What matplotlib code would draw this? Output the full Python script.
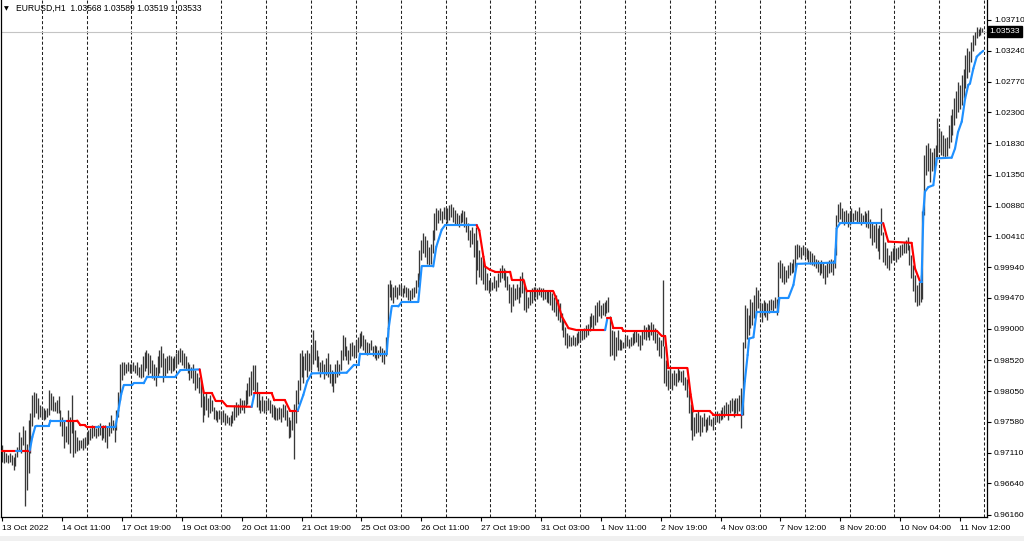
import matplotlib
matplotlib.use("Agg")
import matplotlib.pyplot as plt
import numpy as np
from matplotlib.collections import LineCollection
from matplotlib.transforms import blended_transform_factory
from matplotlib.patches import Rectangle

# ---------------- data (prices in 1/10000) ----------------
symbol_title = "EURUSD,H1  1.03568 1.03589 1.03519 1.03533"
last_close = 1.03533

high_pips = [
    # 13 Oct
    9723, 9713, 9710, 9708, 9710, 9708, 9705, 9710, 9720, 9743, 9735, 9751, 9746, 9725, 9761, 9771, 9799, 9804, 9802, 9794, 9784,
    # 14 Oct
    9781, 9779, 9776, 9779, 9807, 9802, 9797, 9789, 9791, 9797, 9776, 9766, 9761, 9751, 9776, 9766, 9799, 9761, 9746, 9735, 9730, 9730, 9733, 9735,
    # 17 Oct
    9741, 9746, 9748, 9753, 9751, 9748, 9753, 9756, 9751, 9753, 9753, 9751, 9758, 9769, 9761, 9756, 9776, 9804, 9847, 9850, 9850, 9847, 9850, 9847,
    # 18 Oct
    9847, 9850, 9845, 9850, 9842, 9847, 9858, 9865, 9868, 9863, 9860, 9852, 9847, 9842, 9858, 9868, 9873, 9863, 9855, 9858, 9860, 9858, 9855, 9858,
    # 19 Oct
    9863, 9868, 9870, 9868, 9863, 9858, 9850, 9847, 9842, 9847, 9837, 9832, 9827, 9822, 9807, 9797, 9802, 9794, 9799, 9791, 9781, 9776, 9774, 9776,
    # 20 Oct
    9774, 9776, 9771, 9769, 9766, 9769, 9774, 9784, 9789, 9786, 9794, 9791, 9791, 9807, 9817, 9827, 9835, 9845, 9845, 9819, 9802, 9791, 9797, 9791,
    # 21 Oct
    9791, 9794, 9791, 9786, 9784, 9781, 9779, 9781, 9779, 9786, 9784, 9776, 9766, 9761, 9776, 9786, 9807, 9822, 9863, 9868, 9858, 9863, 9868, 9863,
    # 24 Oct
    9873, 9898, 9883, 9868, 9858, 9850, 9852, 9847, 9855, 9863, 9847, 9837, 9832, 9847, 9852, 9847, 9868, 9890, 9888, 9873, 9868, 9878, 9880, 9875,
    # 25 Oct
    9883, 9888, 9893, 9896, 9890, 9885, 9880, 9878, 9883, 9873, 9875, 9873, 9868, 9873, 9870, 9868, 9888, 9969, 9974, 9969, 9964, 9967, 9964, 9969,
    # 26 Oct
    9967, 9962, 9967, 9964, 9962, 9959, 9962, 9964, 9974, 9985, 10020, 10035, 10046, 10041, 10035, 10025, 10030, 10051, 10076, 10084, 10081, 10084, 10079, 10086,
    # 27 Oct
    10086, 10084, 10089, 10091, 10086, 10081, 10076, 10074, 10076, 10081, 10079, 10071, 10061, 10051, 10056, 10046, 10056, 10035, 10020, 10010, 10005, 9995, 9985, 9974,
    # 28 Oct
    9974, 9972, 9980, 9974, 9985, 9992, 9997, 9992, 9990, 9980, 9969, 9964, 9969, 9962, 9969, 9964, 9980, 9987, 9974, 9959, 9949, 9959, 9962, 9964,
    # 31 Oct
    9964, 9962, 9964, 9962, 9962, 9959, 9959, 9957, 9959, 9954, 9949, 9952, 9946, 9939, 9924, 9913, 9903, 9893, 9891, 9888, 9891, 9888, 9893, 9896,
    # 1 Nov
    9896, 9898, 9901, 9906, 9908, 9919, 9924, 9921, 9936, 9941, 9944, 9936, 9939, 9941, 9944, 9949, 9919, 9898, 9896, 9888, 9898, 9885, 9883, 9880,
    # 2 Nov
    9888, 9891, 9885, 9888, 9893, 9896, 9898, 9893, 9891, 9896, 9906, 9903, 9908, 9906, 9911, 9908, 9901, 9893, 9888, 9883, 9974, 9873, 9853, 9837,
    # 3 Nov
    9842, 9832, 9837, 9832, 9840, 9837, 9835, 9837, 9827, 9824, 9807, 9786, 9776, 9766, 9771, 9776, 9769, 9766, 9771, 9763, 9766, 9769, 9763, 9766,
    # 4 Nov
    9771, 9774, 9771, 9776, 9781, 9784, 9789, 9786, 9791, 9794, 9791, 9794, 9794, 9799, 9809, 9880, 9936, 9931, 9921, 9946, 9941, 9951, 9964, 9959,
    # 7 Nov
    9941, 9939, 9944, 9941, 9939, 9944, 9946, 9944, 9949, 9946, 10002, 10005, 10000, 9995, 9990, 9997, 10002, 10000, 10007, 10028, 10030, 10028, 10025, 10028,
    # 8 Nov
    10025, 10023, 10020, 10018, 10015, 10013, 10007, 10005, 10002, 10005, 10000, 9997, 10002, 10005, 10007, 10005, 10023, 10074, 10091, 10094, 10084, 10079, 10081, 10076,
    # 9 Nov
    10079, 10084, 10076, 10081, 10079, 10086, 10076, 10074, 10079, 10076, 10081, 10068, 10063, 10058, 10063, 10053, 10058, 10084, 10048, 10033, 10023, 10013, 10018, 10023,
    # 10 Nov
    10028, 10023, 10025, 10028, 10030, 10033, 10035, 10040, 10028, 10013, 9997, 9982, 9967, 9972, 9982, 10079, 10165, 10180, 10183, 10175, 10170, 10175, 10180, 10221,
    # 11 Nov
    10206, 10201, 10196, 10191, 10193, 10211, 10226, 10236, 10252, 10262, 10277, 10272, 10287, 10297, 10318, 10328, 10323, 10338, 10348, 10353, 10361, 10358, 10361, 10359,
]

low_pips = [
    # 13 Oct
    9697, 9695, 9697, 9695, 9697, 9692, 9685, 9690, 9705, 9715, 9710, 9723, 9630, 9654, 9680, 9710, 9751, 9766, 9771, 9763, 9766,
    # 14 Oct
    9763, 9761, 9763, 9766, 9769, 9776, 9774, 9774, 9771, 9771, 9751, 9736, 9718, 9728, 9725, 9710, 9741, 9705, 9710, 9713, 9715, 9718, 9715, 9718,
    # 17 Oct
    9723, 9725, 9730, 9733, 9736, 9733, 9736, 9738, 9730, 9733, 9728, 9718, 9736, 9741, 9746, 9728, 9746, 9766, 9791, 9822, 9830, 9832, 9835, 9832,
    # 18 Oct
    9832, 9835, 9832, 9830, 9827, 9825, 9827, 9835, 9840, 9830, 9832, 9825, 9822, 9812, 9827, 9832, 9842, 9819, 9827, 9832, 9837, 9832, 9835, 9837,
    # 19 Oct
    9842, 9847, 9850, 9845, 9840, 9837, 9832, 9822, 9825, 9817, 9807, 9809, 9802, 9781, 9758, 9769, 9776, 9766, 9771, 9774, 9763, 9761, 9758, 9763,
    # 20 Oct
    9756, 9758, 9753, 9756, 9753, 9751, 9756, 9761, 9766, 9769, 9771, 9776, 9771, 9781, 9786, 9797, 9799, 9807, 9802, 9781, 9776, 9771, 9774, 9771,
    # 21 Oct
    9774, 9776, 9771, 9766, 9763, 9761, 9761, 9763, 9758, 9766, 9761, 9751, 9733, 9735, 9746, 9702, 9756, 9786, 9807, 9827, 9817, 9837, 9827, 9835,
    # 24 Oct
    9837, 9847, 9852, 9842, 9835, 9827, 9832, 9824, 9830, 9827, 9817, 9812, 9804, 9817, 9827, 9830, 9837, 9852, 9858, 9852, 9847, 9852, 9858, 9855,
    # 25 Oct
    9858, 9865, 9870, 9873, 9868, 9863, 9860, 9863, 9868, 9858, 9855, 9852, 9855, 9858, 9850, 9847, 9858, 9888, 9949, 9944, 9939, 9949, 9946, 9951,
    # 26 Oct
    9951, 9949, 9954, 9949, 9944, 9941, 9946, 9949, 9954, 9964, 9974, 10005, 10015, 10010, 9999, 9995, 9999, 10015, 10035, 10051, 10061, 10066, 10061, 10068,
    # 27 Oct
    10066, 10061, 10066, 10071, 10063, 10058, 10058, 10056, 10061, 10063, 10056, 10048, 10035, 10025, 10030, 10010, 9969, 9990, 9979, 9974, 9969, 9959, 9959, 9954,
    # 28 Oct
    9957, 9959, 9962, 9957, 9964, 9972, 9977, 9974, 9964, 9959, 9939, 9926, 9934, 9944, 9946, 9939, 9949, 9954, 9929, 9926, 9931, 9936, 9939, 9944,
    # 31 Oct
    9949, 9946, 9952, 9949, 9944, 9946, 9941, 9939, 9936, 9929, 9926, 9919, 9913, 9911, 9898, 9888, 9875, 9870, 9873, 9873, 9875, 9873, 9875, 9878,
    # 1 Nov
    9880, 9883, 9885, 9888, 9891, 9896, 9903, 9898, 9906, 9911, 9919, 9916, 9921, 9919, 9924, 9926, 9858, 9860, 9853, 9858, 9868, 9868, 9868, 9870,
    # 2 Nov
    9870, 9873, 9870, 9873, 9875, 9878, 9880, 9873, 9868, 9875, 9885, 9883, 9888, 9883, 9891, 9883, 9878, 9868, 9858, 9855, 9873, 9817, 9812, 9807,
    # 3 Nov
    9809, 9807, 9814, 9812, 9819, 9822, 9819, 9814, 9807, 9796, 9771, 9746, 9730, 9736, 9741, 9743, 9736, 9743, 9751, 9743, 9746, 9753, 9751, 9746,
    # 4 Nov
    9756, 9758, 9756, 9761, 9763, 9766, 9769, 9761, 9771, 9774, 9766, 9771, 9768, 9774, 9748, 9768, 9870, 9885, 9891, 9901, 9906, 9916, 9926, 9931,
    # 7 Nov
    9918, 9911, 9921, 9918, 9913, 9924, 9929, 9926, 9931, 9921, 9926, 9977, 9972, 9969, 9972, 9977, 9982, 9985, 9987, 9992, 10007, 10010, 10007, 10013,
    # 8 Nov
    10010, 10007, 10002, 9999, 9997, 9995, 9992, 9987, 9982, 9985, 9977, 9969, 9979, 9985, 9987, 9982, 9992, 10013, 10063, 10068, 10061, 10058, 10063, 10056,
    # 9 Nov
    10058, 10063, 10061, 10066, 10061, 10063, 10058, 10061, 10063, 10056, 10053, 10038, 10028, 10033, 10023, 10018, 10007, 10043, 10002, 9997, 9992, 9990, 10000, 10005,
    # 10 Nov
    10005, 10002, 10007, 10010, 10013, 10015, 10015, 10020, 9997, 9977, 9957, 9941, 9934, 9936, 9941, 9946, 10074, 10135, 10140, 10124, 10140, 10140, 10150, 10160,
    # 11 Nov
    10170, 10165, 10163, 10160, 10163, 10175, 10185, 10196, 10211, 10221, 10231, 10236, 10241, 10252, 10267, 10282, 10292, 10307, 10323, 10333, 10343, 10346, 10348, 10352,
]

# step indicator: knot positions (bar index), levels (1/10000) and trend of segment starting at knot
ind_bar = [
    0, 7.5, 11, 14.6, 16, 17.6, 18.5, 24.8, 25.7, 34.6,
    40, 41.7, 44, 45.3, 50, 53, 56, 60.4, 62, 63.5,
    64.9, 69.3, 70.2, 75.6, 77.4, 92.5, 95.2, 105.5, 107.7, 112,
    114, 117.5, 120, 133.3, 134.8, 144, 145.4, 151.1, 153.8, 157.9,
    160.9, 163, 165.4, 184.1, 188, 190.5, 191.2, 205.5, 206.5, 208.2,
    211.7, 213.5, 222.4, 224.2, 230.4, 232, 234.9, 236.7, 253.6, 255,
    257.2, 258.1, 260.7, 263.4, 271.5, 272.4, 278.6, 280.4, 294.6, 297,
    299.1, 302.7, 307.1, 322.3, 323.5, 325.3, 326.7, 331.2, 332.1, 349.9,
    352.6, 354.4, 356.1, 366.3, 368, 369.5, 378.4, 380.2, 395.5, 397,
    398.5, 399.3, 401.6, 403.3, 414.6, 415.5, 420.3, 423, 424.8, 445.2,
    446.1, 447.9, 471, 472.5, 473.7, 486.2, 488, 490.7, 491.5, 492.5,
    493.3, 495.1, 497.8, 499.6, 507.6, 509.4, 511, 513, 514.8, 516.5,
    517.4, 519.2, 521, 522.8, 524.5,
]
ind_level = [
    9714, 9714, 9714, 9714, 9735, 9751, 9752, 9752, 9760, 9760,
    9760, 9753, 9753, 9750, 9750, 9750, 9750, 9750, 9775, 9800,
    9814, 9814, 9817, 9817, 9827, 9827, 9837, 9838, 9802, 9802,
    9790, 9790, 9782, 9781, 9802, 9802, 9791, 9791, 9775, 9775,
    9799, 9820, 9832, 9833, 9845, 9845, 9862, 9862, 9900, 9934,
    9934, 9941, 9941, 9995, 9995, 10025, 10051, 10058, 10058, 10050,
    10010, 9995, 9990, 9987, 9987, 9975, 9975, 9957, 9957, 9940,
    9919, 9901, 9898, 9898, 9916, 9916, 9901, 9901, 9897, 9897,
    9889, 9889, 9840, 9840, 9800, 9774, 9774, 9769, 9769, 9820,
    9860, 9885, 9887, 9926, 9926, 9947, 9947, 9967, 9999, 10001,
    10053, 10061, 10061, 10045, 10033, 10031, 9992, 9972, 9972, 10079,
    10109, 10116, 10119, 10160, 10161, 10175, 10200, 10216, 10251, 10272,
    10274, 10297, 10315, 10320, 10324,
]
ind_trend = [
    -1, 1, -1, 1, 1, 1, 1, 1, 1, -1,
    -1, -1, -1, -1, 1, -1, 1, 1, 1, 1,
    1, 1, 1, 1, 1, 1, 1, -1, -1, -1,
    -1, -1, -1, 1, -1, -1, -1, -1, -1, 1,
    1, 1, 1, 1, 1, 1, 1, 1, 1, 1,
    1, 1, 1, 1, 1, 1, 1, 1, -1, -1,
    -1, -1, -1, -1, -1, -1, -1, -1, -1, -1,
    -1, -1, -1, 1, -1, -1, -1, -1, -1, -1,
    -1, -1, -1, -1, -1, -1, -1, -1, 1, 1,
    1, 1, 1, 1, 1, 1, 1, 1, 1, 1,
    1, 1, -1, -1, -1, -1, -1, 1, 1, 1,
    1, 1, 1, 1, 1, 1, 1, 1, 1, 1,
    1, 1, 1, 1, 1,
]

day_start_bars = [21, 45, 69, 93, 117, 141, 165, 189, 213, 237, 261, 285, 309, 333,
                  357, 381, 405, 429, 453, 477, 501, 525]

xtick_bars = [0, 32, 64, 96, 128, 160, 192, 224, 256, 288, 320, 352, 384, 416, 448, 480, 512]
xtick_labels = ["13 Oct 2022", "14 Oct 11:00", "17 Oct 19:00", "19 Oct 03:00", "20 Oct 11:00",
                "21 Oct 19:00", "25 Oct 03:00", "26 Oct 11:00", "27 Oct 19:00", "31 Oct 03:00",
                "1 Nov 11:00", "2 Nov 19:00", "4 Nov 03:00", "7 Nov 12:00", "8 Nov 20:00",
                "10 Nov 04:00", "11 Nov 12:00"]

ytick_values = [1.03710, 1.03240, 1.02770, 1.02300, 1.01830, 1.01350, 1.00880, 1.00410,
                0.99940, 0.99470, 0.99000, 0.98520, 0.98050, 0.97580, 0.97110, 0.96640, 0.96160]

# ---------------- figure ----------------
plt.rcParams['font.family'] = ['Liberation Sans', 'DejaVu Sans']
plt.rcParams['lines.scale_dashes'] = False

W, H = 1024, 541
fig = plt.figure(figsize=(W / 100, H / 100), dpi=100)
fig.patch.set_facecolor('white')
ax = fig.add_axes([1 / W, 24 / H, 986 / W, 517 / H])
ax.set_facecolor('white')

bars = np.arange(len(high_pips))
highs = np.array(high_pips) / 10000.0
lows = np.array(low_pips) / 10000.0

# day separators
for b in day_start_bars:
    ax.axvline(b, color='#222222', lw=0.75, ls=(0, (2.2, 1.5)), zorder=0)

# last price line
ax.axhline(last_close, color='#c4c4c4', lw=0.8, zorder=0.5)

# OHLC bars (high-low lines)
ax.vlines(bars, lows, highs, colors='#383838', lw=0.95, zorder=2)

# indicator line
pts = np.column_stack([ind_bar, np.array(ind_level) / 10000.0])
segs = [pts[k:k + 2] for k in range(len(pts) - 1)]
cols = ['#1e90ff' if ind_trend[k] > 0 else '#ff0000' for k in range(len(pts) - 1)]
lc = LineCollection(segs, colors=cols, linewidths=1.55, capstyle='round', joinstyle='round', zorder=3)
ax.add_collection(lc)

ax.set_xlim(-0.75, 526.5)
ax.set_ylim(0.96129, 1.04015)

# spines
ax.spines['top'].set_visible(False)
for s in ['left', 'right', 'bottom']:
    ax.spines[s].set_color('black')
    ax.spines[s].set_linewidth(0.9)

# x ticks
ax.set_xticks(xtick_bars)
ax.set_xticklabels(xtick_labels, ha='left', fontsize=6.1)
ax.tick_params(axis='x', direction='out', length=3, width=0.8, pad=2.5, colors='black')

# y ticks on right
ax.yaxis.tick_right()
ax.set_yticks(ytick_values)
ax.set_yticklabels([f"{v:.5f}" for v in ytick_values], fontsize=6.1)
ax.tick_params(axis='y', direction='out', length=3, width=0.8, pad=2, colors='black')

# current price label
tr = blended_transform_factory(ax.transAxes, ax.transData)
ax.text(1.0 + 2.5 / 986, last_close, f"{last_close:.5f}", transform=tr, fontsize=6.1,
        color='white', va='center', ha='left', clip_on=False, zorder=10,
        bbox=dict(boxstyle='square,pad=0.2', fc='black', ec='black'))

# title
fig.text(4 / W, 1 - 8.5 / H, "\u25BC", fontsize=4.5, va='center', ha='left',
         family=['DejaVu Sans'])
fig.text(16 / W, 1 - 8.5 / H, symbol_title, fontsize=6.2, va='center', ha='left')

# bottom strip
fig.patches.append(Rectangle((0, 0), 1, 5 / H, transform=fig.transFigure,
                             fc='#f0f0f0', ec='none', zorder=-1))

fig.savefig("out.png", dpi=100)
